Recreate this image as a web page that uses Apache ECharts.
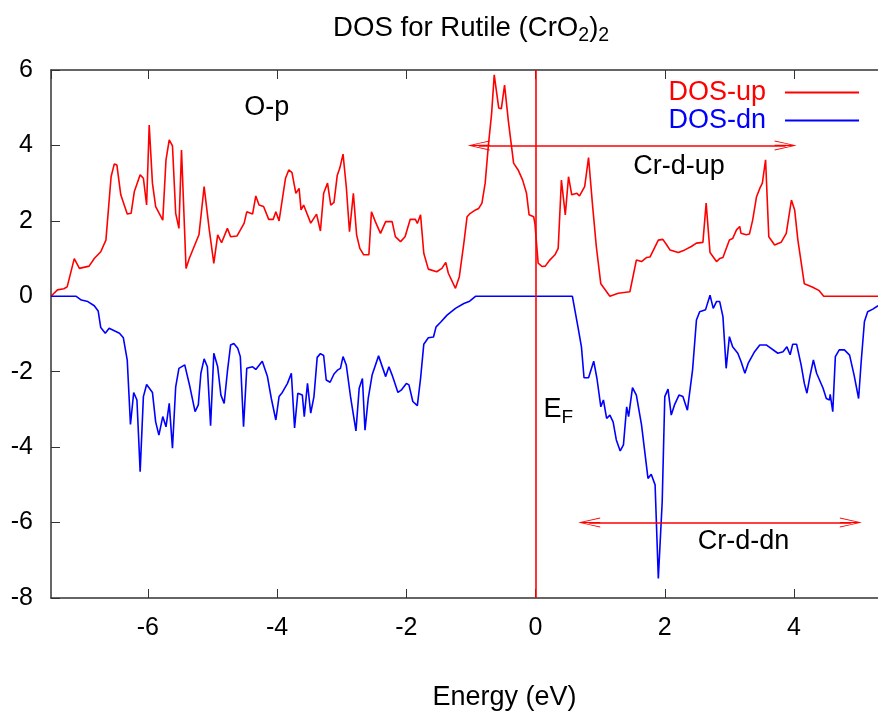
<!DOCTYPE html>
<html lang="en">
<head>
    <meta charset="UTF-8">
    <script src="https://cdn.jsdelivr.net/npm/echarts@6/dist/echarts.min.js"></script>
    <style>
        *{
            margin: 0;
            padding: 0;
        }
        #chart {
            width: 878px;
            height: 713px;
            background: #fff;
        }
    </style>
</head>
<body>
<div id="chart"></div>
<script>
    // spin up DOS (energy, value)
    var upEnergy = [-7.50,-7.40,-7.30,-7.25,-7.14,-7.06,-6.91,-6.83,-6.73,-6.65,-6.57,-6.52,-6.48,-6.42,-6.32,-6.26,-6.21,-6.12,-6.07,-6.02,
        -5.98,-5.93,-5.88,-5.77,-5.72,-5.67,-5.62,-5.57,-5.52,-5.48,-5.41,-5.36,-5.33,-5.21,-5.13,-5.05,-4.98,-4.92,-4.86,-4.77,
        -4.72,-4.62,-4.51,-4.47,-4.38,-4.33,-4.28,-4.21,-4.13,-4.06,-4.02,-3.97,-3.87,-3.82,-3.77,-3.71,-3.66,-3.63,-3.59,-3.56,
        -3.48,-3.39,-3.33,-3.28,-3.22,-3.17,-3.12,-3.07,-3.03,-2.98,-2.93,-2.88,-2.82,-2.77,-2.72,-2.66,-2.58,-2.54,-2.48,-2.40,
        -2.32,-2.22,-2.17,-2.09,-2.02,-1.94,-1.86,-1.83,-1.78,-1.73,-1.66,-1.53,-1.45,-1.39,-1.35,-1.24,-1.18,-1.11,-1.06,-1.01,
        -0.93,-0.88,-0.83,-0.78,-0.73,-0.68,-0.64,-0.57,-0.53,-0.48,-0.42,-0.34,-0.27,-0.20,-0.14,-0.10,-0.03,-0.01,0.04,0.10,
        0.15,0.22,0.30,0.35,0.40,0.46,0.51,0.56,0.64,0.68,0.76,0.82,0.88,0.94,1.01,1.15,1.28,1.46,1.56,1.64,
        1.72,1.77,1.90,1.97,2.03,2.08,2.21,2.31,2.41,2.49,2.59,2.64,2.70,2.80,2.85,2.90,3.00,3.05,3.11,3.16,
        3.18,3.26,3.31,3.36,3.42,3.47,3.51,3.56,3.61,3.70,3.80,3.88,3.96,4.01,4.06,4.16,4.29,4.39,4.46,5.30];
    var upDos = [0.00,0.17,0.20,0.25,1.00,0.74,0.80,1.00,1.18,1.49,3.17,3.51,3.48,2.69,2.18,2.20,2.78,3.22,3.13,2.42,
        4.54,3.00,2.38,2.02,3.62,4.15,3.99,2.20,1.80,3.88,0.74,1.00,1.04,1.63,2.91,1.76,0.87,1.63,1.42,1.80,
        1.58,1.60,1.94,2.24,2.18,2.66,2.42,2.38,2.04,2.04,2.24,2.00,3.13,3.35,3.28,2.73,2.86,2.29,2.42,2.40,
        1.94,2.18,1.73,2.73,3.00,2.42,2.49,3.20,3.40,3.77,2.91,1.71,2.73,1.63,1.27,1.10,1.10,2.24,1.98,1.67,
        1.98,1.98,1.58,1.45,1.58,2.04,2.04,1.93,2.16,1.14,0.72,0.65,0.74,0.90,0.61,0.21,0.52,1.41,2.11,2.20,
        2.29,2.33,2.47,3.00,4.01,4.85,5.87,4.99,4.97,5.60,4.63,3.53,3.35,3.08,2.73,2.16,2.11,1.93,0.88,0.79,
        0.80,0.96,1.10,1.27,3.08,2.16,3.17,2.69,2.73,2.66,2.91,3.68,2.45,1.32,0.33,0.00,0.08,0.12,0.96,0.92,
        1.03,1.04,1.49,1.51,1.36,1.23,1.16,1.23,1.32,1.41,1.43,2.47,1.16,0.92,1.00,1.03,1.49,1.53,1.76,1.85,
        1.67,1.63,1.65,2.02,2.64,2.86,3.00,3.62,1.58,1.36,1.43,1.67,2.55,2.29,1.49,0.33,0.24,0.15,0.00,0.00];

    // spin down DOS (energy, value)
    var dnEnergy = [-7.50,-7.11,-7.03,-6.93,-6.83,-6.77,-6.73,-6.66,-6.60,-6.44,-6.38,-6.32,-6.27,-6.22,-6.17,-6.12,-6.07,-6.02,-5.93,-5.88,
        -5.83,-5.77,-5.72,-5.67,-5.62,-5.57,-5.52,-5.43,-5.35,-5.27,-5.22,-5.18,-5.13,-5.08,-5.03,-4.98,-4.92,-4.87,-4.82,-4.77,
        -4.72,-4.67,-4.61,-4.57,-4.52,-4.47,-4.38,-4.33,-4.23,-4.15,-4.09,-4.02,-3.97,-3.92,-3.84,-3.78,-3.73,-3.68,-3.61,-3.58,
        -3.53,-3.48,-3.43,-3.38,-3.33,-3.28,-3.24,-3.18,-3.12,-3.06,-3.02,-2.98,-2.93,-2.86,-2.78,-2.73,-2.68,-2.64,-2.59,-2.53,
        -2.43,-2.32,-2.27,-2.22,-2.13,-2.08,-2.00,-1.96,-1.90,-1.83,-1.78,-1.73,-1.66,-1.58,-1.54,-1.47,-1.37,-1.24,-1.11,-1.02,
        -0.93,0.57,0.66,0.71,0.75,0.82,0.90,0.95,1.01,1.05,1.10,1.15,1.20,1.25,1.31,1.36,1.41,1.44,1.50,1.56,
        1.64,1.69,1.74,1.79,1.85,1.90,1.96,2.00,2.05,2.10,2.15,2.22,2.28,2.35,2.43,2.49,2.54,2.63,2.70,2.75,
        2.80,2.85,2.90,2.95,3.00,3.05,3.13,3.18,3.24,3.29,3.39,3.47,3.57,3.75,3.83,3.89,3.94,3.98,4.04,4.11,
        4.16,4.20,4.25,4.30,4.35,4.45,4.50,4.55,4.56,4.60,4.64,4.70,4.78,4.86,4.93,5.00,5.04,5.09,5.14,5.22,5.30];
    var dnDos = [0.00,0.00,-0.10,-0.14,-0.25,-0.39,-0.83,-0.98,-0.85,-0.98,-1.10,-1.69,-3.40,-2.55,-2.75,-4.65,-2.66,-2.34,-2.55,-3.33,
        -3.68,-3.19,-3.46,-2.84,-4.03,-2.40,-1.91,-1.82,-2.40,-3.06,-2.88,-2.04,-1.66,-1.87,-3.43,-1.51,-1.87,-2.62,-2.84,-2.00,
        -1.29,-1.25,-1.38,-1.60,-3.46,-1.91,-1.87,-1.94,-1.72,-2.13,-2.71,-3.28,-2.66,-2.55,-2.31,-2.04,-3.49,-2.57,-2.62,-3.19,
        -2.31,-3.10,-2.66,-1.62,-1.52,-1.57,-2.22,-2.28,-2.06,-1.95,-1.91,-1.60,-1.82,-2.71,-3.57,-2.44,-2.18,-3.55,-2.71,-2.09,
        -1.58,-2.13,-1.87,-2.09,-2.55,-2.49,-2.31,-2.35,-2.79,-2.90,-2.18,-1.27,-1.10,-1.08,-0.81,-0.69,-0.50,-0.32,-0.19,-0.13,
        0.00,0.00,-0.85,-1.34,-2.16,-2.16,-1.72,-2.18,-2.93,-2.75,-3.24,-3.15,-3.33,-3.81,-4.10,-3.94,-2.93,-3.19,-2.42,-2.62,
        -3.41,-4.12,-4.83,-4.72,-5.00,-7.48,-5.45,-2.66,-2.46,-3.15,-2.88,-2.62,-2.66,-3.02,-1.95,-0.63,-0.41,-0.36,0.03,-0.32,
        -0.14,-0.14,-0.54,-1.91,-1.07,-1.34,-1.51,-1.73,-2.04,-1.78,-1.47,-1.29,-1.29,-1.51,-1.47,-1.34,-1.55,-1.27,-1.27,-1.82,
        -2.31,-2.57,-2.09,-1.69,-2.04,-2.44,-2.71,-2.75,-2.60,-3.06,-1.60,-1.42,-1.42,-1.56,-2.09,-2.71,-1.73,-0.67,-0.41,-0.34,-0.25];

    // text labels placed in data space
    var noteText = ['O-p', 'Cr-d-up', 'Cr-d-dn', '{e|E}{f|F}'];
    var noteX = [-4.16, 2.22, 3.22, 0.35];
    var noteY = [5.0, 3.44, -6.51, -3.0];

    // double arrows: [x0, x1, y]
    var arrowUp = [-0.88, 3.87, 4.0];
    var arrowDn = [0.83, 4.88, -6.0];

    var fontName = '"Liberation Sans", Arial, sans-serif';
    var arrowHead = 'path://M5,0 L10,22 L9,22 L5.6,6 L5.6,22 L4.4,22 L4.4,6 L1,22 L0,22 Z';
    var axisColor = '#333';

    function pairs(xs, ys) {
        var out = [];
        for (var i = 0; i < xs.length; i++) {
            out.push([xs[i], ys[i]]);
        }
        return out;
    }

    var notes = [];
    for (var i = 0; i < noteText.length; i++) {
        notes.push([noteX[i], noteY[i], noteText[i]]);
    }

    var myChart = echarts.init(document.getElementById('chart'));

    var option = {
        animation: false,
        backgroundColor: '#fff',
        title: {
            text: 'DOS for Rutile (CrO{s|2}){s|2}',
            left: 333,
            top: 10,
            padding: 0,
            textStyle: {
                fontSize: 27.6,
                fontWeight: 'normal',
                fontFamily: fontName,
                color: '#000',
                rich: {
                    s: {fontSize: 19.5, fontFamily: fontName, color: '#000', padding: [16, 0, 0, 0]}
                }
            }
        },
        legend: {
            orient: 'vertical',
            align: 'right',
            right: 14,
            top: 74,
            icon: 'rect',
            itemWidth: 74,
            itemHeight: 2,
            itemGap: 1,
            selectedMode: false,
            textStyle: {fontSize: 27, fontFamily: fontName, padding: [0, 14, 0, 0]},
            data: [
                {name: 'DOS-up', textStyle: {color: '#ff0000'}},
                {name: 'DOS-dn', textStyle: {color: '#0000ff'}}
            ]
        },
        grid: {left: 51, right: 0, top: 70, bottom: 115, outerBoundsMode: 'none'},
        xAxis: [
            {
                type: 'value',
                min: -7.5,
                max: 5.3,
                splitNumber: 6,
                position: 'bottom',
                name: 'Energy (eV)',
                nameLocation: 'middle',
                nameGap: 86,
                nameTextStyle: {fontSize: 27, fontFamily: fontName, color: '#000', padding: [0, 0, 0, 80]},
                axisLine: {show: true, onZero: false, lineStyle: {color: axisColor, width: 1.5}},
                axisTick: {show: true, inside: true, length: 9, lineStyle: {color: axisColor}},
                axisLabel: {fontSize: 25, fontFamily: fontName, color: '#000', margin: 18, showMinLabel: false, showMaxLabel: false},
                splitLine: {show: false}
            },
            {
                type: 'value',
                min: -7.5,
                max: 5.3,
                splitNumber: 6,
                position: 'top',
                axisLine: {show: true, onZero: false, lineStyle: {color: axisColor, width: 1.5}},
                axisTick: {show: true, inside: true, length: 9, lineStyle: {color: axisColor}},
                axisLabel: {show: false},
                splitLine: {show: false}
            }
        ],
        yAxis: {
            type: 'value',
            min: -8,
            max: 6,
            interval: 2,
            axisLine: {show: true, onZero: false, lineStyle: {color: axisColor, width: 1.5}},
            axisTick: {show: true, inside: true, length: 9, lineStyle: {color: axisColor}},
            axisLabel: {fontSize: 25, fontFamily: fontName, color: '#000', margin: 18},
            splitLine: {show: false}
        },
        series: [
            {
                name: 'DOS-up',
                type: 'line',
                symbol: 'none',
                color: '#ff0000',
                lineStyle: {color: '#ff0000', width: 1.6},
                data: pairs(upEnergy, upDos),
                markLine: {
                    silent: true,
                    symbol: [arrowHead, arrowHead],
                    symbolSize: [10, 22],
                    lineStyle: {color: '#ff0000', width: 1.5, type: 'solid'},
                    label: {show: false},
                    data: [
                        [{coord: [arrowUp[0], arrowUp[2]]}, {coord: [arrowUp[1], arrowUp[2]]}],
                        [{coord: [arrowDn[0], arrowDn[2]]}, {coord: [arrowDn[1], arrowDn[2]]}]
                    ]
                }
            },
            {
                name: 'DOS-dn',
                type: 'line',
                symbol: 'none',
                color: '#0000ff',
                lineStyle: {color: '#0000ff', width: 1.6},
                data: pairs(dnEnergy, dnDos),
                markLine: {
                    silent: true,
                    symbol: ['none', 'none'],
                    lineStyle: {color: '#ff0000', width: 1.6, type: 'solid'},
                    label: {show: false},
                    data: [{xAxis: 0}]
                }
            },
            {
                name: 'notes',
                type: 'scatter',
                symbolSize: 1,
                silent: true,
                itemStyle: {color: '#fff', opacity: 1},
                label: {
                    show: true,
                    position: 'inside',
                    fontSize: 27,
                    fontFamily: fontName,
                    color: '#000',
                    opacity: 1,
                    textBorderWidth: 0,
                    formatter: function (p) { return p.data[2]; },
                    rich: {
                        e: {fontSize: 27, fontFamily: fontName, color: '#000'},
                        f: {fontSize: 19, fontFamily: fontName, color: '#000', padding: [16, 0, 0, 0]}
                    }
                },
                data: notes
            }
        ]
    };

    myChart.setOption(option);
</script>
</body>
</html>
